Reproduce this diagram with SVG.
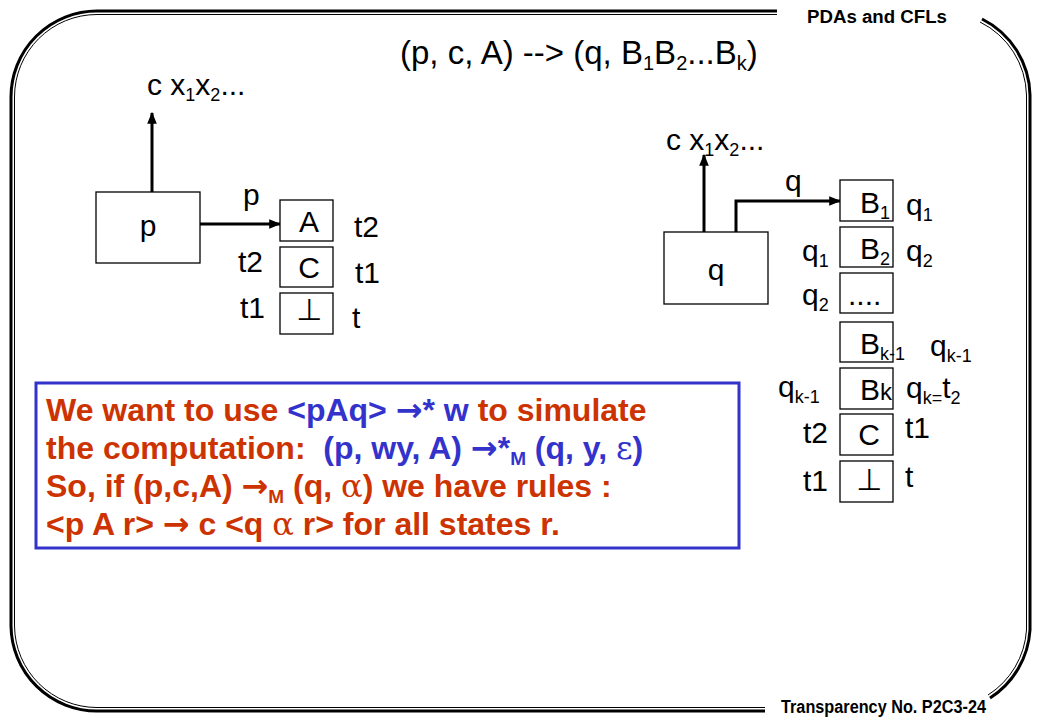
<svg xmlns="http://www.w3.org/2000/svg" width="1040" height="720" viewBox="0 0 1040 720">
<style>
.frame{fill:none;stroke:#000}
.t{font-family:"Liberation Sans",Arial,"DejaVu Sans",sans-serif;font-size:30px;fill:#000}
.ttl{font-size:33px}
.hdr{font-family:"Liberation Sans",Arial,sans-serif;font-size:18px;font-weight:bold;fill:#000}
.box{fill:#fff;stroke:#000;stroke-width:1.3}
.conn{fill:none;stroke:#000;stroke-width:3}
.bt{font-family:"Liberation Sans",Arial,"DejaVu Sans",sans-serif;font-size:32px;font-weight:bold;fill:#CC3300}
.bl{fill:#3333CC}
.sym{font-family:"DejaVu Serif","Liberation Serif",serif;font-weight:normal}
.arr{font-family:"DejaVu Sans",sans-serif;font-weight:bold}
.sub{font-size:18px}
</style>
<defs>
<marker id="ah" viewBox="0 0 10 10" refX="9" refY="5" markerWidth="4" markerHeight="4" orient="auto" markerUnits="strokeWidth">
<path d="M0,1 L10,5 L0,9 z" fill="#000"/>
</marker>
</defs>
<rect width="1040" height="720" fill="#fff"/>
<g id="frame">
<path class="frame" stroke-width="3" d="M777 11 L97 11 A86 86 0 0 0 11 97 L11 626 A86 86 0 0 0 97 711 L765 711"/>
<path class="frame" stroke-width="1" d="M777 14.5 L97 14.5 A82.5 82.5 0 0 0 14.5 97 L14.5 626 A82.5 82.5 0 0 0 97 707.5 L765 707.5"/>
<path class="frame" stroke-width="3" d="M982 19 A87 87 0 0 1 1030 95 L1030 630 A87 87 0 0 1 990 698"/>
<path class="frame" stroke-width="1" d="M980 22 A83.5 83.5 0 0 1 1026.5 95 L1026.5 630 A83.5 83.5 0 0 1 988 695"/>
</g>
<g id="header"><text class="hdr" x="807" y="23" textLength="140" lengthAdjust="spacingAndGlyphs">PDAs and CFLs</text></g>
<g id="footer"><text class="hdr" x="781" y="713" textLength="205" lengthAdjust="spacingAndGlyphs">Transparency No. P2C3-24</text></g>
<g id="title"><text class="t ttl" x="400" y="64">(p, c, A) --&gt; (q, B<tspan font-size="20" dy="6">1</tspan><tspan dy="-6">B</tspan><tspan font-size="20" dy="6">2</tspan><tspan dy="-6">...B</tspan><tspan font-size="20" dy="6">k</tspan><tspan dy="-6">)</tspan></text></g>

<g id="connectors">
<line class="conn" x1="152" y1="192" x2="152" y2="113" marker-end="url(#ah)"/>
<line class="conn" x1="200" y1="224" x2="280" y2="224" marker-end="url(#ah)"/>
<line class="conn" x1="704" y1="232" x2="704" y2="155" marker-end="url(#ah)"/>
<polyline class="conn" points="736,232 736,201 840,201" marker-end="url(#ah)"/>
</g>

<g id="left-input"><text class="t" x="147" y="95">c x<tspan class="sub" dy="6">1</tspan><tspan dy="-6">x</tspan><tspan class="sub" dy="6">2</tspan><tspan dy="-6">...</tspan></text></g>
<g id="node-p"><rect class="box" x="96" y="192" width="104" height="71"/><text class="t" x="148" y="236" text-anchor="middle">p</text></g>
<g id="label-p"><text class="t" x="243" y="205">p</text></g>
<g id="node-A"><rect class="box" x="280" y="200" width="53" height="41"/><text class="t" x="309" y="232" text-anchor="middle">A</text></g>
<g id="node-C-left"><rect class="box" x="280" y="247" width="53" height="40"/><text class="t" x="309" y="278" text-anchor="middle">C</text></g>
<g id="node-bot-left"><rect class="box" x="280" y="293" width="53" height="41"/><text class="t" x="309" y="320" text-anchor="middle">⊥</text></g>
<g id="left-labels">
<text class="t" x="354" y="237">t2</text>
<text class="t" x="355" y="283">t1</text>
<text class="t" x="352" y="328">t</text>
<text class="t" x="238" y="272">t2</text>
<text class="t" x="240" y="318">t1</text>
</g>

<g id="right-input"><text class="t" x="666" y="150">c x<tspan class="sub" dy="6">1</tspan><tspan dy="-6">x</tspan><tspan class="sub" dy="6">2</tspan><tspan dy="-6">...</tspan></text></g>
<g id="node-q"><rect class="box" x="664" y="232" width="104" height="72"/><text class="t" x="716" y="280" text-anchor="middle">q</text></g>
<g id="label-q"><text class="t" x="785" y="191">q</text></g>
<g id="node-B1"><rect class="box" x="840" y="180" width="53" height="41"/><text class="t" x="860" y="213">B<tspan class="sub" dy="6">1</tspan></text></g>
<g id="node-B2"><rect class="box" x="840" y="227" width="53" height="40"/><text class="t" x="860" y="259">B<tspan class="sub" dy="6">2</tspan></text></g>
<g id="node-dots"><rect class="box" x="840" y="273" width="53" height="40" stroke-width="2"/><text class="t" x="848" y="305">....</text></g>
<g id="node-Bk-1"><rect class="box" x="840" y="322" width="53" height="40"/><text class="t" x="860" y="354">B<tspan class="sub" dy="6">k-1</tspan></text></g>
<g id="node-Bk"><rect class="box" x="840" y="368" width="53" height="41"/><text class="t" x="860" y="400">B<tspan font-size="24">k</tspan></text></g>
<g id="node-C-right"><rect class="box" x="840" y="414" width="53" height="41"/><text class="t" x="869" y="445" text-anchor="middle">C</text></g>
<g id="node-bot-right"><rect class="box" x="840" y="461" width="53" height="41"/><text class="t" x="869" y="490" text-anchor="middle">⊥</text></g>
<g id="right-labels">
<text class="t" x="906" y="215">q<tspan class="sub" dy="6">1</tspan></text>
<text class="t" x="906" y="261">q<tspan class="sub" dy="6">2</tspan></text>
<text class="t" x="802" y="261">q<tspan class="sub" dy="6">1</tspan></text>
<text class="t" x="802" y="305">q<tspan class="sub" dy="6">2</tspan></text>
<text class="t" x="930" y="356">q<tspan class="sub" dy="6">k-1</tspan></text>
<text class="t" x="778" y="397">q<tspan class="sub" dy="6">k-1</tspan></text>
<text class="t" x="906" y="398">q<tspan class="sub" dy="6">k=</tspan><tspan dy="-6">t</tspan><tspan class="sub" dy="6">2</tspan></text>
<text class="t" x="803" y="443">t2</text>
<text class="t" x="905" y="438">t1</text>
<text class="t" x="803" y="491">t1</text>
<text class="t" x="905" y="487">t</text>
</g>

<g id="note">
<rect x="36" y="383" width="703" height="165" fill="#fff" stroke="#3333CC" stroke-width="3"/>
<text class="bt" x="46" y="421">We want to use <tspan class="bl">&lt;pAq&gt; <tspan class="arr">→</tspan>* w</tspan> to simulate</text>
<text class="bt" x="46" y="459" xml:space="preserve">the computation:  <tspan class="bl">(p, wy, A) <tspan class="arr">→</tspan>*<tspan font-size="19" dy="6">M</tspan><tspan dy="-6"> (q, y, </tspan><tspan class="sym">ε</tspan>)</tspan></text>
<text class="bt" x="46" y="497">So, if (p,c,A) <tspan class="arr">→</tspan><tspan font-size="19" dy="6">M</tspan><tspan dy="-6"> (q, </tspan><tspan class="sym">α</tspan>) we have rules :</text>
<text class="bt" x="46" y="535">&lt;p A r&gt; <tspan class="arr">→</tspan> c &lt;q <tspan class="sym">α</tspan> r&gt; for all states r.</text>
</g>
</svg>
